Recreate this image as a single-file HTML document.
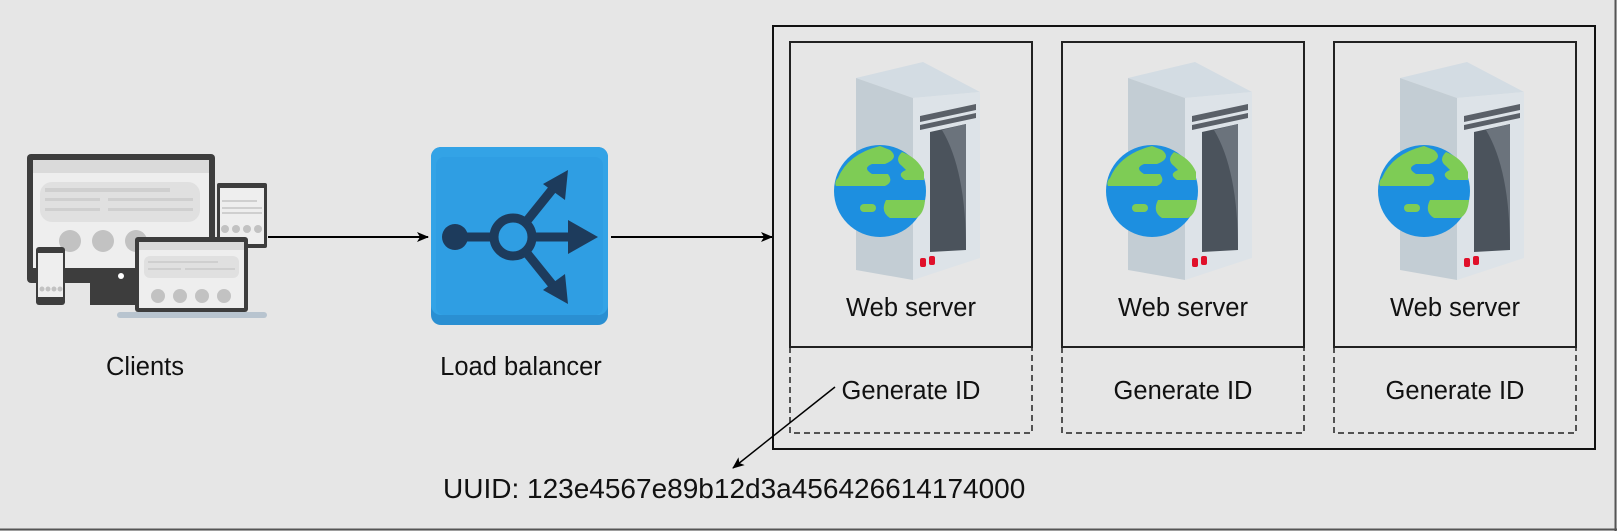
<!DOCTYPE html>
<html><head><meta charset="utf-8"><style>
html,body{margin:0;padding:0;background:#e6e6e6;}
svg{display:block;}
text{font-family:"Liberation Sans",Arial,sans-serif;fill:#111;}
</style></head><body>
<svg width="1617" height="531" viewBox="0 0 1617 531" xmlns="http://www.w3.org/2000/svg">
<defs>
<marker id="ah" markerWidth="12" markerHeight="10" refX="11" refY="5" orient="auto" markerUnits="userSpaceOnUse">
<path d="M0,0 L12,5 L0,10 L3,5 Z" fill="#000"/>
</marker>
<g id="srv">
 <polygon points="66,78 133,62 190,92 123,98" fill="#d3dce3"/>
 <polygon points="66,78 123,98 123,280 66,270" fill="#c3cdd4"/>
 <polygon points="123,98 190,92 190,258 123,280" fill="#dde3e8"/>
 <polygon points="130,116 186,104 186,110 130,122" fill="#5a6068"/>
 <polygon points="130,125 186,113 186,118 130,130" fill="#5a6068"/>
 <polygon points="140,132 176,124 176,250 140,252" fill="#4b535c"/>
 <path d="M152,130 Q176,170 176,250 L176,124 Z" fill="#6b737c"/>
 <rect x="130" y="258" width="6" height="9" rx="2" fill="#e0102a"/>
 <rect x="139" y="256" width="6" height="9" rx="2" fill="#e0102a"/>
 <g transform="translate(0,8)">
 <circle cx="90" cy="183" r="46" fill="#1d8fe0"/>
 <path d="M48,170 Q58,146 90,138 L100,142 Q110,150 95,156 L82,156 Q72,160 82,166 L98,166 Q104,174 95,178 L46,178 Q44,174 48,170 Z" fill="#7ecc55"/>
 <path d="M112,144 Q128,150 134,164 L134,172 L115,172 Q106,166 116,162 L112,158 Q104,152 112,144 Z" fill="#7ecc55"/>
 <path d="M96,192 L135,192 Q134,206 126,210 L100,210 Q90,204 96,192 Z" fill="#7ecc55"/>
 <rect x="70" y="196" width="16" height="8" rx="4" fill="#7ecc55"/>
 </g>
</g>
</defs>

<line x1="1615.5" y1="0" x2="1615.5" y2="531" stroke="#555" stroke-width="2"/>
<line x1="0" y1="529.5" x2="1617" y2="529.5" stroke="#555" stroke-width="2"/>

<g>
 <rect x="27" y="154" width="188" height="129" rx="4" fill="#3d3d3d"/>
 <rect x="33" y="160" width="176" height="108" fill="#eeeeee"/>
 <rect x="33" y="160" width="176" height="13" fill="#dadada"/>
 <rect x="40" y="182" width="160" height="40" rx="12" fill="#e0e0e0"/>
 <rect x="45" y="188" width="125" height="4" fill="#cfcfcf"/>
 <rect x="45" y="198" width="55" height="3" fill="#cfcfcf"/><rect x="108" y="198" width="85" height="3" fill="#cfcfcf"/>
 <rect x="45" y="208" width="55" height="3" fill="#cfcfcf"/><rect x="108" y="208" width="85" height="3" fill="#cfcfcf"/>
 <circle cx="70" cy="241" r="11" fill="#c2c2c2"/><circle cx="103" cy="241" r="11" fill="#c2c2c2"/><circle cx="136" cy="241" r="11" fill="#c2c2c2"/>
 <rect x="90" y="283" width="45" height="22" fill="#3d3d3d"/>
 <circle cx="121" cy="276" r="3" fill="#fff"/>
 <rect x="217" y="183" width="50" height="65" rx="2" fill="#3d3d3d"/>
 <rect x="220" y="188" width="44" height="56" fill="#eeeeee"/>
 <circle cx="225" cy="229" r="4" fill="#c2c2c2"/><circle cx="236" cy="229" r="4" fill="#c2c2c2"/><circle cx="247" cy="229" r="4" fill="#c2c2c2"/><circle cx="258" cy="229" r="4" fill="#c2c2c2"/>
 <rect x="222" y="200" width="35" height="2" fill="#cfcfcf"/><rect x="222" y="207" width="40" height="2" fill="#cfcfcf"/><rect x="222" y="212" width="40" height="2" fill="#cfcfcf"/>
 <rect x="135" y="237" width="113" height="75" rx="3" fill="#3d3d3d"/>
 <rect x="139" y="242" width="105" height="66" fill="#eeeeee"/>
 <rect x="139" y="242" width="105" height="8" fill="#dadada"/>
 <rect x="144" y="256" width="95" height="22" rx="6" fill="#e0e0e0"/>
 <rect x="148" y="261" width="70" height="2" fill="#cfcfcf"/><rect x="148" y="268" width="33" height="2" fill="#cfcfcf"/><rect x="185" y="268" width="50" height="2" fill="#cfcfcf"/>
 <circle cx="158" cy="296" r="7" fill="#c2c2c2"/><circle cx="180" cy="296" r="7" fill="#c2c2c2"/><circle cx="202" cy="296" r="7" fill="#c2c2c2"/><circle cx="224" cy="296" r="7" fill="#c2c2c2"/>
 <rect x="117" y="312" width="150" height="6" rx="3" fill="#b8c4cf"/>
 <rect x="36" y="247" width="29" height="58" rx="3" fill="#3d3d3d"/>
 <rect x="38" y="253" width="25" height="44" fill="#eeeeee"/>
 <circle cx="42" cy="289" r="2.5" fill="#c2c2c2"/><circle cx="48" cy="289" r="2.5" fill="#c2c2c2"/><circle cx="54" cy="289" r="2.5" fill="#c2c2c2"/><circle cx="60" cy="289" r="2.5" fill="#c2c2c2"/>
</g>
<text x="145" y="375" font-size="25.5" text-anchor="middle">Clients</text>

<line x1="268" y1="237" x2="428" y2="237" stroke="#000" stroke-width="2" marker-end="url(#ah)"/>

<rect x="431" y="147" width="177" height="178" rx="10" fill="#2a8fd2"/>
<rect x="431" y="147" width="177" height="168" rx="10" fill="#33a3e6"/>
<rect x="436" y="157" width="167" height="158" rx="8" fill="#2f9ee3"/>
<g stroke="#1d3b5c" stroke-width="9" fill="none">
 <line x1="455" y1="237" x2="493" y2="237"/>
 <circle cx="513" cy="237" r="19"/>
 <line x1="532" y1="237" x2="572" y2="237"/>
 <line x1="526" y1="222" x2="555" y2="186"/>
 <line x1="526" y1="252" x2="555" y2="288"/>
</g>
<g fill="#1d3b5c">
 <circle cx="455" cy="237" r="13"/>
 <polygon points="598,237 568,220 568,254"/>
 <polygon points="568,170 543,184 565,200"/>
 <polygon points="568,304 543,290 565,274"/>
</g>
<text x="521" y="375" font-size="25.5" text-anchor="middle">Load balancer</text>

<line x1="611" y1="237" x2="772" y2="237" stroke="#000" stroke-width="2" marker-end="url(#ah)"/>

<rect x="773" y="26" width="822" height="423" fill="none" stroke="#111" stroke-width="2"/>

<g>
 <rect x="790" y="42" width="242" height="305" fill="none" stroke="#222" stroke-width="2"/>
 <rect x="790" y="347" width="242" height="86" fill="none" stroke="#222" stroke-width="1.5" stroke-dasharray="6,4"/>
 <use href="#srv" x="790" y="0"/>
 <text x="911" y="316" font-size="25.5" text-anchor="middle">Web server</text>
 <text x="911" y="399" font-size="25.5" text-anchor="middle">Generate ID</text>
</g>
<g>
 <rect x="1062" y="42" width="242" height="305" fill="none" stroke="#222" stroke-width="2"/>
 <rect x="1062" y="347" width="242" height="86" fill="none" stroke="#222" stroke-width="1.5" stroke-dasharray="6,4"/>
 <use href="#srv" x="1062" y="0"/>
 <text x="1183" y="316" font-size="25.5" text-anchor="middle">Web server</text>
 <text x="1183" y="399" font-size="25.5" text-anchor="middle">Generate ID</text>
</g>
<g>
 <rect x="1334" y="42" width="242" height="305" fill="none" stroke="#222" stroke-width="2"/>
 <rect x="1334" y="347" width="242" height="86" fill="none" stroke="#222" stroke-width="1.5" stroke-dasharray="6,4"/>
 <use href="#srv" x="1334" y="0"/>
 <text x="1455" y="316" font-size="25.5" text-anchor="middle">Web server</text>
 <text x="1455" y="399" font-size="25.5" text-anchor="middle">Generate ID</text>
</g>

<line x1="835" y1="387" x2="733" y2="468" stroke="#000" stroke-width="1.5" marker-end="url(#ah)"/>
<text x="443" y="498" font-size="28">UUID: 123e4567e89b12d3a456426614174000</text>
</svg>
</body></html>
